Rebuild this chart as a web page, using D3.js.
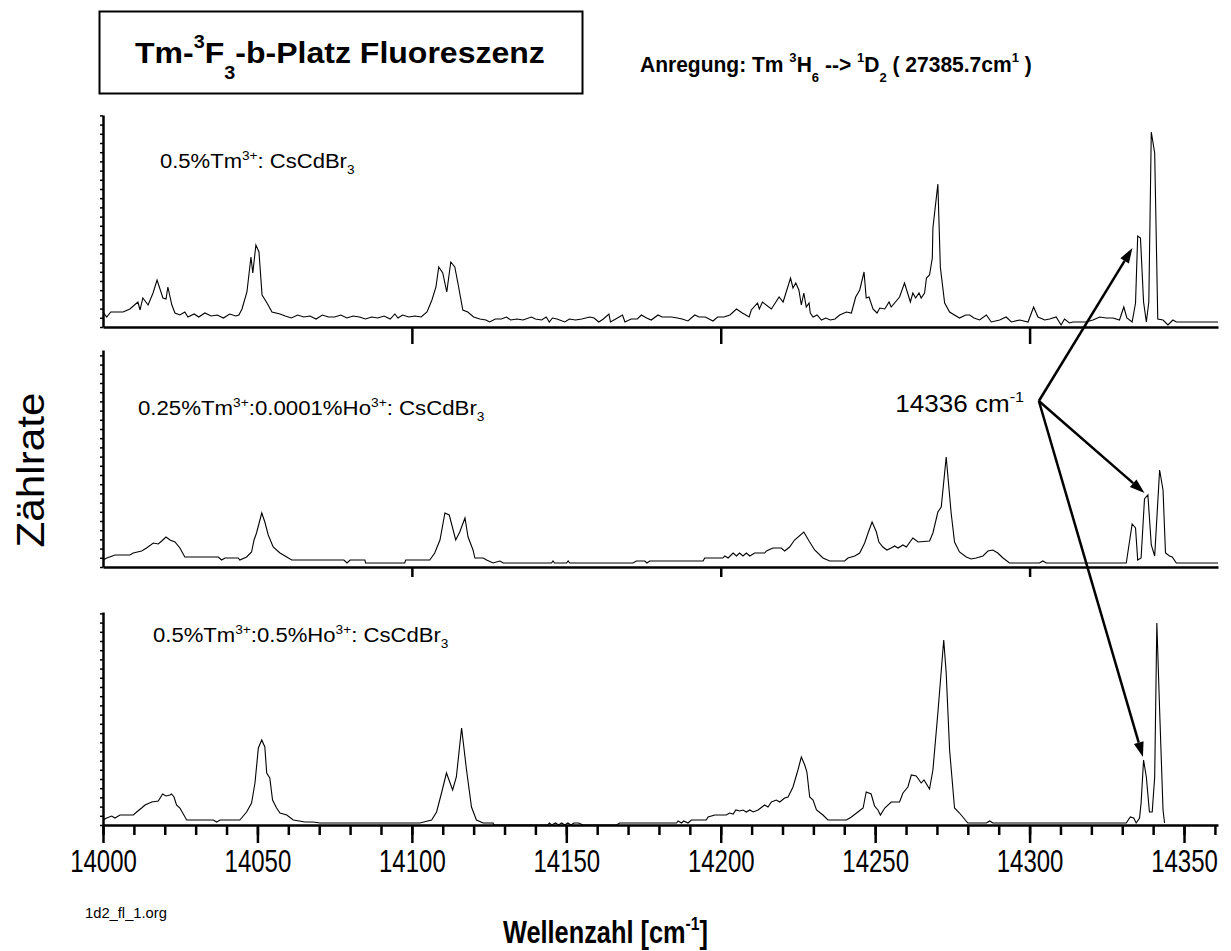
<!DOCTYPE html>
<html>
<head>
<meta charset="utf-8">
<script src="https://cdn.jsdelivr.net/npm/d3@7"></script>
<style>
  body { margin: 0; background: #fff; }
  svg { display: block; font-family: "Liberation Sans", Arial, sans-serif; }
  text { white-space: pre; fill: #000; }
</style>
</head>
<body>
<svg id="chart" width="1231" height="951"></svg>
<script>
// ---- data -------------------------------------------------------------
// wavenumber range of the recording (cm-1)
var xStart = 14000, xEnd = 14361;
var majorTicks = [14000, 14050, 14100, 14150, 14200, 14250, 14300, 14350];
var minorTicks = d3.range(14000, 14361, 10);
var panelTicks = [14100, 14200, 14300];

// spectra: [wavenumber cm-1, count rate a.u.]
var spec05Tm = [[14000.0,15],[14001.2,10],[14002.5,15],[14006.5,15],[14008.7,18],[14011.3,25],[14012.0,17],[14012.9,29],[14014.6,22],[14016.2,34],[14017.5,47],[14019.4,29],[14020.4,28],[14021.0,40],[14022.3,22],[14023.3,14],[14024.9,12],[14026.5,15],[14027.5,10],[14029.5,13],[14031,10],[14033,14],[14035,11],[14037,12],[14039,9],[14041,13],[14043,11],[14044,12],[14045.0,18],[14046.6,35],[14047.9,70],[14048.5,54],[14049.5,82],[14050.5,75],[14051.5,32],[14053.1,24],[14054.7,15],[14057.3,13],[14059,11],[14061,9],[14063,12],[14065,10],[14067,11],[14069,8],[14071,12],[14073,10],[14075,10],[14077,12],[14079,9],[14081,11],[14083,10],[14085,8],[14087,10],[14089,9],[14091,11],[14093,8],[14094.5,13],[14095.5,9],[14097,12],[14099,10],[14101,11],[14103,10],[14104.9,15],[14106.5,27],[14107.8,40],[14108.7,60],[14110.0,54],[14111.3,35],[14112.6,65],[14113.9,60],[14114.9,44],[14116.5,17],[14118.1,15],[14120,10],[14122,8],[14124,7],[14125.2,5],[14127,8],[14129,8],[14130.6,10],[14132,7],[14134,8],[14136,7],[14138.7,10],[14140,8],[14142,7],[14143.5,10],[14144.5,5],[14145.5,9],[14147,8],[14149.5,5],[14151,8],[14153,7],[14155,8],[14157.6,10],[14159,9],[14160.5,5],[14162,8],[14163.8,13],[14164.3,5],[14166,8],[14168.2,12],[14169,5],[14171,8],[14173,8],[14174.3,12],[14176,9],[14177.5,7],[14179.7,12],[14181,10],[14184,10],[14186,9],[14187.5,8],[14189.4,6],[14191.6,12],[14193,10],[14195,10],[14197.5,6],[14199,10],[14201,10],[14203,12],[14205.1,18],[14207,14],[14209.2,10],[14209.9,17],[14211.9,24],[14212.5,18],[14213.5,25],[14216.4,18],[14218.9,30],[14220.2,25],[14222.6,49],[14223.4,39],[14224.3,44],[14225.3,37],[14226.1,22],[14226.9,34],[14227.7,20],[14228.6,24],[14229.0,14],[14229.9,10],[14231.2,12],[14232.6,7],[14234,9],[14235.5,7],[14237,8],[14238.5,12],[14240.7,15],[14242.3,14],[14243.7,30],[14245.0,37],[14246.4,55],[14247.1,29],[14248.0,30],[14249.3,18],[14250.6,14],[14251.5,19],[14253.1,18],[14254.5,25],[14255.2,20],[14257.9,30],[14259.5,44],[14261.4,25],[14262.2,34],[14263.1,29],[14264.2,34],[14264.9,29],[14266.0,34],[14266.6,49],[14267.6,52],[14268.5,69],[14268.7,99],[14270.3,143],[14271.1,60],[14272.5,24],[14274.1,15],[14277.3,9],[14279.3,12],[14280.6,12],[14282,9],[14283.8,7],[14286.0,12],[14287.6,5],[14290.3,7],[14292.4,10],[14294.1,5],[14296.8,7],[14299.5,5],[14301.3,20],[14302.7,10],[14304.9,7],[14306.5,8],[14308.6,10],[14310.2,2],[14311.3,8],[14312.9,4],[14314.0,5],[14318.3,5],[14320.5,7],[14322.7,10],[14324.8,9],[14327.0,9],[14329.1,7],[14330.5,20],[14331.5,9],[14333.2,5],[14334.3,24],[14335.0,91],[14335.9,89],[14336.9,25],[14337.8,5],[14338.6,25],[14339.4,195],[14340.5,174],[14341.5,8],[14343.2,7],[14344.8,2],[14346.4,7],[14347.5,5],[14361.0,5]];

var spec025Tm = [[14000.0,7],[14001.2,9],[14003.9,12],[14008.7,12],[14009.8,14],[14012.5,16],[14014.1,19],[14016.3,24],[14017.9,23],[14019.0,26],[14020.4,30],[14021.7,27],[14023.3,25],[14024.9,19],[14026.5,10],[14037.3,10],[14038.4,7],[14039.5,9],[14043.8,9],[14044.3,7],[14046.5,10],[14048.1,15],[14048.9,27],[14049.7,34],[14051.4,54],[14052.4,45],[14053.5,32],[14055.1,20],[14057.3,14],[14059.5,10],[14061.1,7],[14078,7],[14079,4],[14080,7],[14084.8,7],[14085,4],[14097.7,4],[14098,7],[14105.8,7],[14107.4,14],[14109.1,27],[14110.7,54],[14112.1,52],[14114.2,27],[14115.5,35],[14117.2,49],[14118.2,30],[14119.8,17],[14120.4,9],[14123.1,9],[14124.2,7],[14126.3,4],[14128.5,6],[14129.6,4],[14145.2,4],[14145.7,6],[14146.2,4],[14150.1,4],[14150.6,6],[14151.1,4],[14171.6,4],[14172.7,6],[14175.4,6],[14176.1,4],[14177.0,6],[14194.3,6],[14194.8,9],[14200.7,9],[14201.3,11],[14202.4,9],[14204.0,14],[14205.1,11],[14206.1,14],[14207.2,11],[14208.3,14],[14209.4,11],[14211.0,14],[14214.2,14],[14214.8,16],[14216.9,19],[14219.6,19],[14220.7,16],[14222.3,20],[14223.9,27],[14226.9,35],[14228.8,25],[14230.4,17],[14233.1,9],[14235.3,6],[14240.1,6],[14241.2,9],[14243.4,11],[14245.0,14],[14246.6,24],[14247.7,34],[14249.0,45],[14250.4,35],[14251.2,25],[14252.5,20],[14253.8,17],[14255.2,19],[14256.3,21],[14257.4,19],[14259.0,22],[14260.1,20],[14262.2,29],[14263.9,25],[14267.6,26],[14268.7,34],[14270.3,55],[14271.4,60],[14273.0,110],[14274.6,54],[14275.7,25],[14277.3,15],[14279.5,10],[14281.1,8],[14282.7,9],[14284.9,11],[14286.5,16],[14288.1,17],[14289.7,14],[14291.4,9],[14293.5,4],[14303.2,4],[14304.3,6],[14305.4,4],[14331.3,4],[14333.2,43],[14334.3,39],[14335.0,7],[14336.1,9],[14337.2,68],[14338.3,72],[14339.4,22],[14340.5,11],[14342.1,97],[14343.2,77],[14344.0,14],[14345.3,11],[14346.2,10],[14347.5,4],[14361.0,4]];

var spec05Ho = [[14000.0,5],[14001.2,7],[14002.8,9],[14003.9,7],[14005.5,10],[14009.8,10],[14010.9,13],[14012.5,17],[14013.6,20],[14015.8,23],[14017.9,24],[14019.3,31],[14020.4,29],[14021.7,30],[14022.2,31],[14023.0,28],[14023.8,20],[14024.9,17],[14027.1,5],[14035.7,5],[14036.8,3],[14037.9,5],[14044.3,5],[14046.5,13],[14048.1,22],[14049.2,42],[14050.3,77],[14051.4,85],[14052.4,78],[14053.0,52],[14054.0,47],[14054.9,25],[14056.2,17],[14057.3,12],[14059.5,10],[14061.6,5],[14065.4,3],[14068.1,3],[14070.2,2],[14101.5,2],[14102.6,2],[14106.4,5],[14108.0,13],[14109.6,32],[14111.2,52],[14113.2,35],[14114.4,48],[14116.1,97],[14117.7,55],[14119.3,18],[14120.9,5],[14123.1,2],[14126.3,2],[14126.5,0],[14144.0,0],[14144.5,2],[14145.3,0],[14146.5,2],[14147.5,0],[14148.5,2],[14149.5,0],[14150.5,2],[14151.5,0],[14152.5,2],[14154,2],[14155.4,0],[14166.2,0],[14167.3,2],[14185.7,2],[14186.2,4],[14187.3,2],[14188.0,4],[14189.4,2],[14190.5,5],[14195.3,5],[14195.9,8],[14198.1,10],[14201.8,10],[14202.9,12],[14204.0,11],[14204.9,15],[14206.1,14],[14207.2,15],[14208.3,13],[14209.4,15],[14210.5,13],[14212.1,15],[14214.2,20],[14215.3,18],[14216.4,23],[14218.0,25],[14219.1,23],[14220.7,27],[14221.8,28],[14223.4,38],[14225.0,55],[14226.1,68],[14227.2,60],[14227.9,53],[14228.8,28],[14229.9,25],[14231.0,15],[14233.1,10],[14234.7,5],[14240.7,5],[14242.3,8],[14244.4,13],[14246.1,17],[14247.1,33],[14248.7,31],[14249.8,19],[14250.9,15],[14251.7,10],[14253.1,17],[14255.2,23],[14257.9,23],[14259.0,32],[14260.6,38],[14261.7,50],[14263.3,49],[14264.9,42],[14265.8,45],[14267.6,36],[14268.7,55],[14270.3,112],[14272.2,185],[14273.0,152],[14274.1,75],[14275.7,17],[14277.3,12],[14280.0,2],[14286.0,2],[14287.1,4],[14288.1,2],[14290.3,2],[14331.3,2],[14332.6,8],[14333.7,7],[14334.5,2],[14335.6,7],[14336.1,22],[14336.9,65],[14337.8,48],[14338.8,13],[14339.7,13],[14340.5,48],[14341.2,202],[14342.1,115],[14343.2,15],[14343.7,2]];

var spectra = [spec05Tm, spec025Tm, spec05Ho];

// sample names, split into [text, "sup"/"sub"] pieces
var sampleNames = [
  [["0.5%Tm"], ["3+", "sup"], [": CsCdBr"], ["3", "sub"]],
  [["0.25%Tm"], ["3+", "sup"], [":0.0001%Ho"], ["3+", "sup"], [": CsCdBr"], ["3", "sub"]],
  [["0.5%Tm"], ["3+", "sup"], [":0.5%Ho"], ["3+", "sup"], [": CsCdBr"], ["3", "sub"]]
];

// the 14336 cm-1 line, pointed at in every panel
var lineLabel = [["14336 cm"], ["-1", "sup"]];
var labelAt = [14256.5, 155];         // middle panel units
var arrowFrom = [14303, 166];         // middle panel units
var arrowTips = [[14333.3, 79], [14337.2, 74], [14336.7, 68]];

var titleText = [["Tm-"], ["3", "sup"], ["F"], ["3", "sub"], ["-b-Platz Fluoreszenz"]];
var excitText = [["Anregung: Tm "], ["3", "sup"], ["H"], ["6", "sub"], [" --> "], ["1", "sup"], ["D"], ["2", "sub"], [" ( 27385.7cm"], ["1", "sup"], [" )"]];
var xTitle = [["Wellenzahl [cm"], ["-1", "sup"], ["]"]];
var yTitle = [["Zählrate"]];
var fileName = [["1d2_fl_1.org"]];

// ---- layout -----------------------------------------------------------
var panels = [
  {top: 115, bottom: 327, max: 212, tick: 17, label: {x: 160, y: 168, w: 195}},
  {top: 350, bottom: 567, max: 217, tick: 10, label: {x: 138, y: 415, w: 347}},
  {top: 612, bottom: 825, max: 213, tick: 0,  label: {x: 153, y: 642, w: 296}}
];

var svg = d3.select("#chart");

var x = d3.scaleLinear()
    .domain([xStart, xEnd])
    .range([103, 1218]);

// draws text made of normal / sup / sub pieces
function richText(g, parts, size, weight, supUp, subDown) {
  var t = g.append("text")
      .attr("font-size", size)
      .attr("font-weight", weight || "normal");
  var shift = 0;
  parts.forEach(function(p){
    var want = p[1] == "sup" ? -size*(supUp || 0.42) : p[1] == "sub" ? size*(subDown || 0.32) : 0;
    t.append("tspan")
      .attr("dy", want - shift)
      .attr("font-size", p[1] ? size*0.62 : size)
      .text(p[0]);
    shift = want;
  });
  return t;
}

// put text at (x,y) and squeeze / stretch it to width w
function fitText(parts, px, py, size, weight, w, rotate, supUp, subDown) {
  var g = svg.append("g");
  var t = richText(g, parts, size, weight, supUp, subDown);
  var bw = t.node().getBBox().width;
  if (rotate) {
    t.attr("text-anchor", "middle");
    g.attr("transform", "translate(" + px + "," + py + ") rotate(-90) scale(" + (w/bw) + ",1)");
  } else {
    g.attr("transform", "translate(" + px + "," + py + ") scale(" + (w/bw) + ",1)");
  }
  return g;
}

// ---- panels -----------------------------------------------------------
var line = d3.line()
    .x(function(d){ return x(d[0]); });

var yScales = panels.map(function(p, i){
  var y = d3.scaleLinear()
      .domain([0, p.max])
      .range([p.bottom, p.top]);

  var g = svg.append("g").attr("class", "panel");

  // left axis with small ticks, no labels
  var left = g.append("g")
      .attr("transform", "translate(" + x(xStart) + ",0)")
      .call(d3.axisLeft(y).tickValues(d3.range(0, p.max, 9.2)).tickSize(3).tickSizeOuter(0).tickFormat(""));
  left.select(".domain").attr("stroke-width", 2.5);
  left.selectAll(".tick line").attr("stroke-width", 1.5);

  // bottom axis
  if (i < 2) {
    var bot = g.append("g")
        .attr("transform", "translate(0," + p.bottom + ")")
        .call(d3.axisBottom(x).tickValues(panelTicks).tickSize(p.tick).tickSizeOuter(0).tickFormat(""));
    bot.select(".domain").attr("stroke-width", 2.5);
    bot.selectAll(".tick line").attr("stroke-width", 2.5);
  } else {
    var minor = g.append("g")
        .attr("transform", "translate(0," + p.bottom + ")")
        .call(d3.axisBottom(x).tickValues(minorTicks).tickSize(10).tickSizeOuter(0).tickFormat(""));
    minor.select(".domain").attr("stroke-width", 2.5);
    minor.selectAll(".tick line").attr("stroke-width", 2.5);

    var major = g.append("g")
        .attr("transform", "translate(0," + p.bottom + ")")
        .attr("class", "major")
        .call(d3.axisBottom(x).tickValues(majorTicks).tickSize(18).tickSizeOuter(0).tickPadding(6).tickFormat(d3.format("d")));
    major.select(".domain").remove();
    major.attr("font-family", null).attr("font-size", 32);
    major.selectAll(".tick line").attr("stroke-width", 2.5);
    major.selectAll(".tick text").attr("transform", "scale(0.75,1)");
  }

  // spectrum
  g.append("path")
      .datum(spectra[i])
      .attr("fill", "none")
      .attr("stroke", "#000")
      .attr("stroke-width", 1.1)
      .attr("d", line.y(function(d){ return y(d[1]); }));

  fitText(sampleNames[i], p.label.x, p.label.y, 19.5, "normal", p.label.w);
  return y;
});

// ---- arrows to the 14336 cm-1 line -----------------------------------
var yMid = yScales[1];
var from = [x(arrowFrom[0]), yMid(arrowFrom[1])];

arrowTips.forEach(function(tip, i){
  var to = [x(tip[0]), yScales[i](tip[1])];
  var dx = to[0] - from[0], dy = to[1] - from[1];
  var len = Math.sqrt(dx*dx + dy*dy);
  var ux = dx/len, uy = dy/len;
  var head = 15, half = 5;
  var base = [to[0] - ux*head, to[1] - uy*head];

  svg.append("line")
      .attr("x1", from[0]).attr("y1", from[1])
      .attr("x2", base[0]).attr("y2", base[1])
      .attr("stroke", "#000")
      .attr("stroke-width", 2.5);

  svg.append("path")
      .attr("d", "M" + to[0] + "," + to[1] +
                 "L" + (base[0] - uy*half) + "," + (base[1] + ux*half) +
                 "L" + (base[0] + uy*half) + "," + (base[1] - ux*half) + "Z")
      .attr("fill", "#000");
});

fitText(lineLabel, x(labelAt[0]), yMid(labelAt[1]), 23, "normal", 129);

// ---- titles -------------------------------------------------------------
svg.append("rect")
    .attr("x", 99.5).attr("y", 11.5)
    .attr("width", 483).attr("height", 82)
    .attr("fill", "none")
    .attr("stroke", "#000")
    .attr("stroke-width", 2);

fitText(titleText, 135, 63, 30, "bold", 410, false, 0.5, 0.55);
fitText(excitText, 640, 72, 22, "bold", 392, false, 0.45, 0.45);
fitText(xTitle, 503, 943, 31, "bold", 205);
fitText(yTitle, 44, 470, 38, "normal", 155, true);
fitText(fileName, 85, 918, 14, "normal", 82);
</script>
</body>
</html>
